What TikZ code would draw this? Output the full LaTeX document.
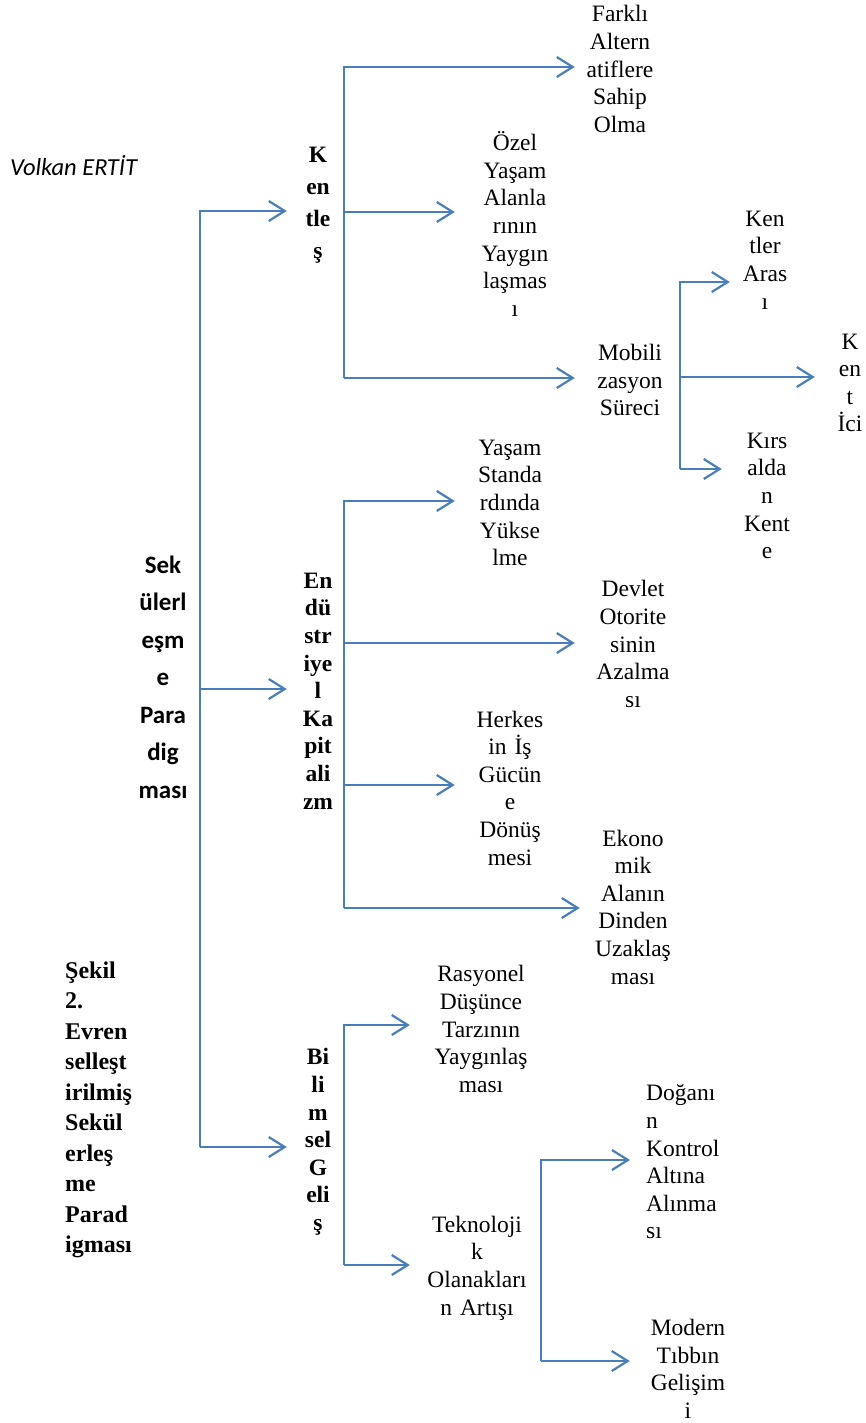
\documentclass[tikz,border=0pt]{standalone}
\usepackage{fontspec}
\setmainfont{Liberation Serif}
\newfontfamily\calibrifont{Carlito}
\usetikzlibrary{arrows.meta,positioning}
\definecolor{linkblue}{HTML}{4A7EBB}

\begin{document}
\begin{tikzpicture}[x=1pt,y=-1pt,
  link/.style={linkblue, line width=2.2pt},
  arr/.style={link, -{Straight Barb[length=16pt,width=20pt]}},
  leaf/.style={align=center, inner xsep=0pt, inner ysep=0pt, font=\fontsize{23.5}{27.6}\selectfont},
  stem/.style={align=center, inner xsep=0pt, inner ysep=0pt, font=\fontsize{23.5}{27.6}\selectfont\bfseries}]
\useasboundingbox (0,0) rectangle (866,1423);

% Author and caption
\node[anchor=west, inner sep=0pt, font=\calibrifont\itshape\fontsize{24.5}{27}\selectfont] (author) at (10,166) {Volkan ERTİT};
\node[anchor=west, align=left, inner sep=0pt, font=\fontsize{24}{30.5}\selectfont\bfseries] (caption) at (65,1110)
  {Şekil\\2.\\Evren\\selleşt\\irilmiş\\Sekül\\erleş\\me\\Parad\\igması};

% Root
\node[align=center, inner sep=0pt, font=\calibrifont\bfseries\fontsize{25}{37.5}\selectfont] (root) at (163,677)
  {Sek\\ülerl\\eşm\\e\\Para\\dig\\ması};

% Second level
\node[stem, text width=62pt, font=\fontsize{23.5}{32}\selectfont\bfseries] (kentles) at (318,205) {K\\en\\tle\\ş};
\node[stem, text width=62pt] (endus) at (318,691) {En\\dü\\str\\iye\\l\\Ka\\pit\\ali\\zm};
\node[stem, text width=62pt] (bilim) at (318,1142) {Bi\\li\\m\\sel\\G\\eli\\ş};

% Kentleş branch
\node[leaf, text width=90pt] (farkli) at (620,69) {Farklı\\Altern\\atiflere\\Sahip\\Olma};
\node[leaf, text width=120pt] (ozel) at (515,224) {Özel\\Yaşam\\Alanla\\rının\\Yaygın\\laşmas\\ı};
\node[leaf, text width=110pt] (mobil) at (630,380) {Mobili\\zasyon\\Süreci};

% Mobilizasyon branch
\node[leaf, text width=70pt] (kentara) at (765,260) {Ken\\tler\\Aras\\ı};
\node[leaf, text width=70pt] (kentici) at (850,383) {K\\en\\t\\İci};
\node[leaf, text width=90pt] (kirsal) at (767,496) {Kırs\\alda\\n\\Kent\\e};

% Endüstriyel Kapitalizm branch
\node[leaf, text width=110pt] (yasam) at (510,503) {Yaşam\\Standa\\rdında\\Yükse\\lme};
\node[leaf, text width=116pt] (devlet) at (633,644) {Devlet\\Otorite\\sinin\\Azalma\\sı};
\node[leaf, text width=110pt] (herkes) at (510,788) {Herkes\\in İş\\Gücün\\e\\Dönüş\\mesi};
\node[leaf, text width=106pt] (ekonomi) at (633,907) {Ekono\\mik\\Alanın\\Dinden\\Uzaklaş\\ması};

% Bilimsel Gelişme branch
\node[leaf, text width=142pt] (rasyonel) at (481,1029) {Rasyonel\\Düşünce\\Tarzının\\Yaygınlaş\\ması};
\node[leaf, text width=134pt] (teknoloji) at (477,1268) {Teknoloji\\k\\Olanakları\\n Artışı};
\node[leaf, align=left, text width=80pt, inner xsep=16pt, anchor=west] (dogan) at (630,1162) {Doğanı\\n\\Kontrol\\Altına\\Alınma\\sı};
\node[leaf, text width=116pt] (modern) at (688,1369) {Modern\\Tıbbın\\Gelişim\\i};

% Trunk points
\coordinate (rootTop) at (200,211);
\coordinate (rootMid) at (200,689);
\coordinate (rootBot) at (200,1147);
\coordinate (kTop) at (344,67);
\coordinate (kMid) at (344,212);
\coordinate (kBot) at (344,378);
\coordinate (mTop) at (680,282);
\coordinate (mMid) at (680,377);
\coordinate (mBot) at (680,469);
\coordinate (eA) at (344,501);
\coordinate (eB) at (344,643);
\coordinate (eC) at (344,785);
\coordinate (eD) at (344,908);
\coordinate (bTop) at (344,1025);
\coordinate (bBot) at (344,1265);
\coordinate (tTop) at (541,1160);
\coordinate (tBot) at (541,1361);

% Connectors
\draw[arr] (rootBot) -- (rootTop) -- (rootTop -| kentles.west);
\draw[arr] (rootMid) -- (rootMid -| endus.west);
\draw[arr] (rootBot) -- (rootBot -| bilim.west);

\draw[arr] (kBot) -- (kTop) -- (kTop -| farkli.west);
\draw[arr] (kMid) -- (kMid -| ozel.west);
\draw[arr] (kBot) -- (kBot -| mobil.west);

\draw[arr] (mBot) -- (mTop) -- (mTop -| kentara.west);
\draw[arr] (mMid) -- (mMid -| kentici.west);
\draw[arr] (mBot) -- (mBot -| kirsal.west);

\draw[arr] (eD) -- (eA) -- (eA -| yasam.west);
\draw[arr] (eB) -- (eB -| devlet.west);
\draw[arr] (eC) -- (eC -| herkes.west);
\draw[arr] (eD) -- (eD -| ekonomi.west);

\draw[arr] (bBot) -- (bTop) -- (bTop -| rasyonel.west);
\draw[arr] (bBot) -- (bBot -| teknoloji.west);

\draw[arr] (tBot) -- (tTop) -- (tTop -| dogan.west);
\draw[arr] (tBot) -- (tBot -| modern.west);
\end{tikzpicture}
\end{document}
